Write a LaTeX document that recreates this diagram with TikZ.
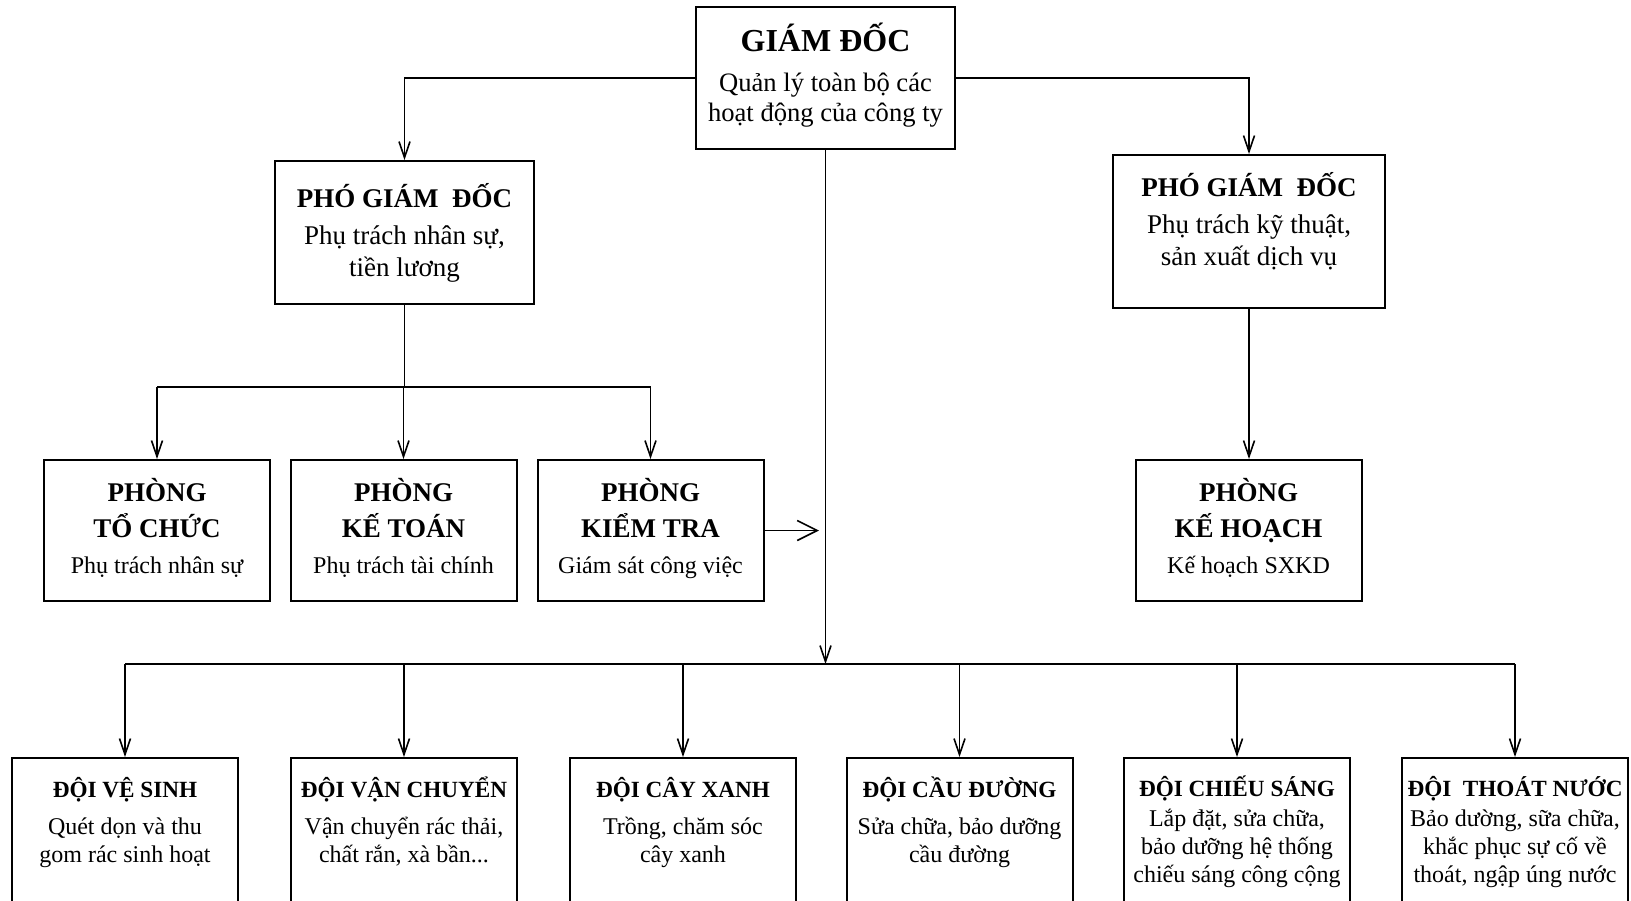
\documentclass[tikz,border=0pt]{standalone}
\usepackage{fontspec}
\setmainfont{Liberation Serif}
\usetikzlibrary{arrows.meta,positioning}
\newcommand{\tphong}[1]{{\fontsize{13.5}{18}\selectfont\bfseries #1}}

\begin{document}
\begin{tikzpicture}[x=0.5pt,y=-0.5pt,>={Straight Barb[length=8pt,width=5.5pt]},line width=0.8pt,
    hop/.style={draw, line width=1pt, align=center, inner sep=2pt},
    gdbox/.style={hop, minimum width=129.5pt, minimum height=71pt, font=\fontsize{13.3}{15}\selectfont},
    pgdbox/.style={hop, minimum width=129.5pt, minimum height=71.5pt, font=\fontsize{13.5}{16}\selectfont},
    phongbox/.style={hop, minimum width=113pt, minimum height=70.5pt, font=\fontsize{12}{18}\selectfont},
    doibox/.style={hop, minimum width=113pt, minimum height=74pt, font=\fontsize{12}{14}\selectfont}]
    \useasboundingbox (0,0) rectangle (1631,900);

    % Giam doc
    \node[gdbox] (gd) at (825.5,78) {{\fontsize{16}{15}\selectfont\bfseries GIÁM ĐỐC}\\[5pt]
        Quản lý toàn bộ các\\hoạt động của công ty\\[-9.5pt]};

    % Pho giam doc
    \node[pgdbox] (pgd1) at (404.5,232.5) {{\bfseries PHÓ GIÁM~ ĐỐC}\\[2.5pt]
        Phụ trách nhân sự,\\tiền lương};
    \node[pgdbox, minimum width=136pt, minimum height=76.5pt] (pgd2) at (1249,231.5) {{\bfseries PHÓ GIÁM~ ĐỐC}\\[2.5pt]
        Phụ trách kỹ thuật,\\sản xuất dịch vụ\\[-3.5pt]};

    % Cac phong
    \node[phongbox] (ptc) at (157,530.5) {\tphong{PHÒNG}\\\tphong{TỔ CHỨC}\\[0pt]Phụ trách nhân sự\\[-13pt]};
    \node[phongbox] (pkt) at (403.5,530.5) {\tphong{PHÒNG}\\\tphong{KẾ TOÁN}\\[0pt]Phụ trách tài chính\\[-13pt]};
    \node[phongbox] (pkiem) at (650.5,530.5) {\tphong{PHÒNG}\\\tphong{KIỂM TRA}\\[0pt]Giám sát công việc\\[-13pt]};
    \node[phongbox] (pkh) at (1248.5,530.5) {\tphong{PHÒNG}\\\tphong{KẾ HOẠCH}\\[0pt]Kế hoạch SXKD\\[-13pt]};

    % Cac doi
    \node[doibox] (doi1) at (125,832) {{\bfseries\fontsize{11.6}{14}\selectfont ĐỘI VỆ SINH}\\[4.5pt]Quét dọn và thu\\gom rác sinh hoạt\\[-1.5pt]};
    \node[doibox] (doi2) at (404,832) {{\bfseries\fontsize{11.6}{14}\selectfont ĐỘI VẬN CHUYỂN}\\[4.5pt]Vận chuyển rác thải,\\chất rắn, xà bần...\\[-1.5pt]};
    \node[doibox] (doi3) at (683,832) {{\bfseries\fontsize{11.6}{14}\selectfont ĐỘI CÂY XANH}\\[4.5pt]Trồng, chăm sóc\\cây xanh\\[-1.5pt]};
    \node[doibox] (doi4) at (959.5,832) {{\bfseries\fontsize{11.6}{14}\selectfont ĐỘI CẦU ĐƯỜNG}\\[4.5pt]Sửa chữa, bảo dưỡng\\cầu đường\\[-1.5pt]};
    \node[doibox] (doi5) at (1237,832) {{\bfseries\fontsize{11.6}{14}\selectfont ĐỘI CHIẾU SÁNG}\\[1pt]Lắp đặt, sửa chữa,\\bảo dưỡng hệ thống\\chiếu sáng công cộng};
    \node[doibox] (doi6) at (1515,832) {{\bfseries\fontsize{11.6}{14}\selectfont ĐỘI~ THOÁT NƯỚC}\\[1pt]Bảo dường, sữa chữa,\\khắc phục sự cố về\\thoát, ngập úng nước};

    \coordinate (nhanh) at (404.5,387);
    \coordinate (bus) at (825.5,664);
    \coordinate (ktdich) at (819,530.5);

    % Duong noi
    \draw[->] (gd.west) -| (pgd1.north);
    \draw[->] (gd.east) -| (pgd2.north);
    \draw[->] (gd.south) -- (bus);
    \draw (pgd1.south) -- (nhanh);
    \draw (ptc.north |- nhanh) -- (pkiem.north |- nhanh);
    \foreach \p in {ptc,pkt,pkiem}
        \draw[->] (\p.north |- nhanh) -- (\p.north);
    \draw[->] (pgd2.south) -- (pgd2.south |- pkh.north);
    \draw[-{Straight Barb[length=10pt,width=10pt]}] (pkiem.east) -- (ktdich);
    \draw (doi1.north |- bus) -- (doi6.north |- bus);
    \foreach \i in {1,...,6}
        \draw[->] (doi\i.north |- bus) -- (doi\i.north);
\end{tikzpicture}
\end{document}
